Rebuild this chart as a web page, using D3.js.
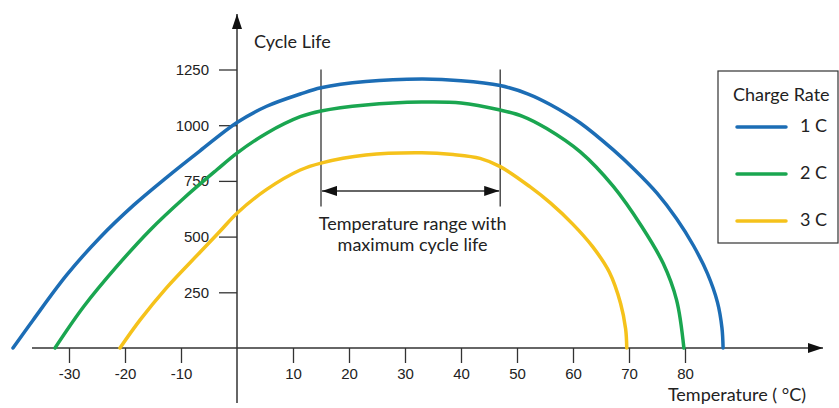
<!DOCTYPE html>
<html><head><meta charset="utf-8">
<script src="https://cdn.jsdelivr.net/npm/d3@7"></script>
<style>body{margin:0;background:#fff}svg{display:block}</style>
</head><body>
<svg id="c" width="839" height="408"></svg>
<script>
const xTicks = [-30,-20,-10,10,20,30,40,50,60,70,80];
const yTicks = [250,500,750,1000,1250];
const seriesNames = ["1 C","2 C","3 C"];
const seriesColors = ["#1c6db5","#1aa650","#f5c21b"];
const temp1C = [-40,-36.4,-30.4,-24.5,-18.5,-12.6,-6.6,0,5.3,11.3,15,23,33,40,47,52,56,61.3,67.2,71,75,78.5,81.5,84,85.8,86.6,86.8];
const life1C = [0,126,328,495,640,765,885,1012,1085,1140,1168,1196,1207,1200,1178,1140,1092,1010,889,800,695,580,460,335,205,90,0];
const temp2C = [-32.5,-27.4,-21.5,-15.5,-9.6,-3.6,0,5.3,11.3,15,23,33,40,47,51,55.3,61.3,67.2,72.3,76.1,78.5,79.8];
const life2C = [0,185,365,530,670,800,875,964,1038,1064,1091,1104,1100,1068,1040,985,880,725,544,380,215,0];
const temp3C = [-20.9,-17.3,-12.6,-6.6,-3,0,5.3,11.3,15,23,33,38.6,43.4,47,52.3,56,60,63.5,66.5,68.5,69.4,69.6];
const life3C = [0,126,270,430,525,605,712,799,830,866,876,868,851,814,724,650,555,455,340,200,85,0];
const rangeLimits = [15,47];
const rangeTop = 1250;
const rangeBottom = 635;
const rangeArrow = 705;

const svg = d3.select("#c");
const x = d3.scaleLinear().domain([0,80]).range([237,685]);
const y = d3.scaleLinear().domain([0,1250]).range([348,69.5]);
const ink = "#333";
const fontTick = "'Liberation Sans', Arial, sans-serif";
const fontLbl = "Lato, 'Open Sans', sans-serif";

const defs = svg.append("defs");
defs.append("marker").attr("id","big").attr("viewBox","0 0 15 10").attr("refX",15).attr("refY",5)
  .attr("markerWidth",15).attr("markerHeight",10).attr("markerUnits","userSpaceOnUse").attr("orient","auto-start-reverse")
  .append("path").attr("d","M0,0 L15,5 L0,10 Z").attr("fill","#111");

// axes lines
svg.append("line").attr("x1",32).attr("x2",823).attr("y1",y(0)).attr("y2",y(0))
  .attr("stroke",ink).attr("stroke-width",1.5).attr("marker-end","url(#big)");
svg.append("line").attr("x1",x(0)).attr("x2",x(0)).attr("y1",403).attr("y2",14)
  .attr("stroke",ink).attr("stroke-width",1.5).attr("marker-end","url(#big)");

// axis ticks via d3 axes
const xAxis = d3.axisBottom(x).tickValues(xTicks).tickSize(15).tickPadding(5).tickFormat(d => String(d));
const gx = svg.append("g").attr("transform",`translate(0,${y(0)})`).call(xAxis);
gx.select(".domain").remove();
gx.selectAll(".tick line").attr("stroke",ink).attr("stroke-width",1.3);
gx.selectAll(".tick text").attr("fill","#222").style("font-family",fontTick).style("font-size","15px");

const yAxis = d3.axisLeft(y).tickValues(yTicks).tickSize(18).tickPadding(10).tickFormat(d => String(d));
const gy = svg.append("g").attr("transform",`translate(${x(0)},0)`).call(yAxis);
gy.select(".domain").remove();
gy.selectAll(".tick line").attr("stroke",ink).attr("stroke-width",1.3);
gy.selectAll(".tick text").attr("fill","#222").style("font-family",fontTick).style("font-size","15px");

// axis titles
svg.append("text").attr("x",254).attr("y",48).text("Cycle Life")
  .style("font-family",fontLbl).style("font-size","18px").attr("fill","#222");
svg.append("text").attr("x",806).attr("y",401).attr("text-anchor","end").text("Temperature ( °C)")
  .style("font-family",fontLbl).style("font-size","18px").attr("fill","#222");

// range markers
rangeLimits.forEach(t=>{
  svg.append("line").attr("x1",x(t)).attr("x2",x(t)).attr("y1",y(rangeTop)).attr("y2",y(rangeBottom))
    .attr("stroke",ink).attr("stroke-width",1.3);
});
svg.append("line").attr("x1",x(rangeLimits[0])+1).attr("x2",x(rangeLimits[1])-1)
  .attr("y1",y(rangeArrow)).attr("y2",y(rangeArrow)).attr("stroke",ink).attr("stroke-width",1.5)
  .attr("marker-start","url(#big)").attr("marker-end","url(#big)");
const mid = (x(rangeLimits[0])+x(rangeLimits[1]))/2 + 2;
svg.append("text").attr("x",mid).attr("y",230).attr("text-anchor","middle").text("Temperature range with")
  .style("font-family",fontLbl).style("font-size","18px").attr("fill","#222");
svg.append("text").attr("x",mid).attr("y",251).attr("text-anchor","middle").text("maximum cycle life")
  .style("font-family",fontLbl).style("font-size","18px").attr("fill","#222");

// curves
const series = [[temp1C,life1C],[temp2C,life2C],[temp3C,life3C]];
const line = d3.line().x(d=>x(d[0])).y(d=>y(d[1])).curve(d3.curveCatmullRom.alpha(0.5));
series.forEach((s,i)=>{
  const pts = s[0].map((t,j)=>[t,s[1][j]]);
  svg.append("path").attr("d",line(pts)).attr("fill","none").attr("stroke",seriesColors[i])
    .attr("stroke-width",3.5).attr("stroke-linecap","round");
});

// legend
svg.append("rect").attr("x",718).attr("y",71).attr("width",120).attr("height",172)
  .attr("fill","#fff").attr("stroke",ink).attr("stroke-width",1.2);
svg.append("text").attr("x",733).attr("y",101).text("Charge Rate")
  .style("font-family",fontLbl).style("font-size","18px").attr("fill","#222");
seriesNames.forEach((n,i)=>{
  const yy = 127 + i*47;
  svg.append("line").attr("x1",737).attr("x2",786).attr("y1",yy).attr("y2",yy)
    .attr("stroke",seriesColors[i]).attr("stroke-width",3.5).attr("stroke-linecap","round");
  svg.append("text").attr("x",800).attr("y",yy+5).text(n)
    .style("font-family",fontLbl).style("font-size","18px").attr("fill","#222");
});
</script>
</body></html>
